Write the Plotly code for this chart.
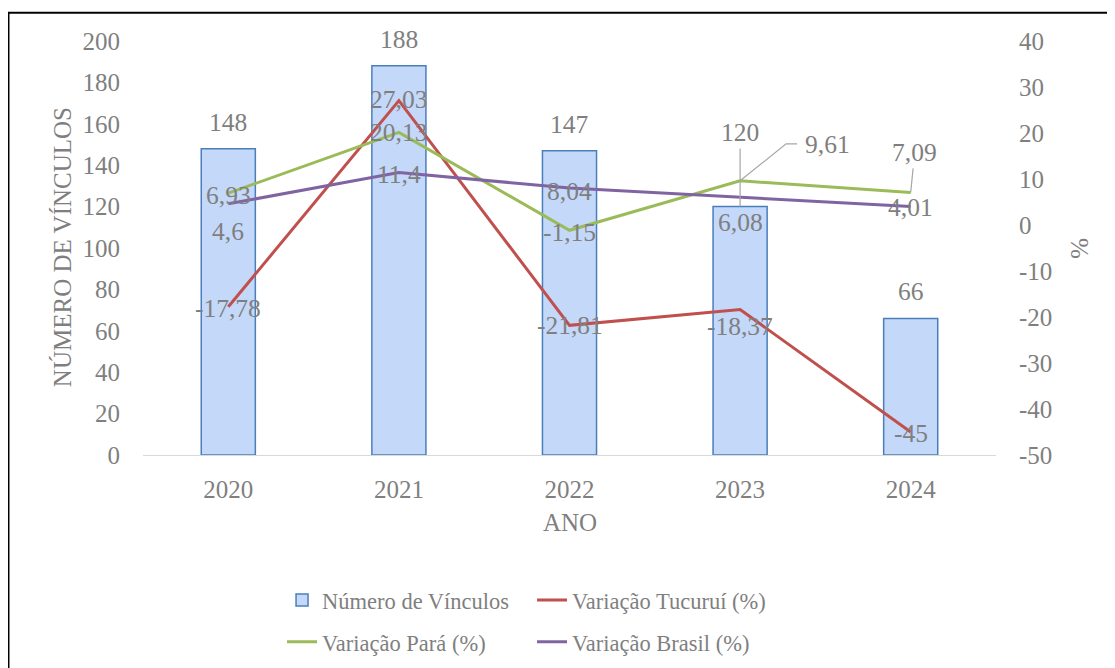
import plotly.graph_objects as go

# ---- data ----
anos = ["2020", "2021", "2022", "2023", "2024"]
vinculos = [148, 188, 147, 120, 66]
var_tucurui = [-17.78, 27.03, -21.81, -18.37, -45.0]
var_para = [6.93, 20.13, -1.15, 9.61, 7.09]
var_brasil = [4.6, 11.4, 8.04, 6.08, 4.01]
ticks_left = list(range(0, 201, 20))
ticks_right = list(range(-50, 41, 10))

# ---- style ----
FONT = "Liberation Serif"
GRAY = "#7f7f7f"
C_RED = "#c0504d"
C_GREEN = "#9bbb59"
C_PURPLE = "#8064a2"
LEADER = "#a6a6a6"

# label vertical offsets (px) relative to points
off_bar = [26, 26, 26, 74, 27]
off_tuc = [-2, 1, 0, -17, -1]
off_para = [-2, 0, -2, None, None]
off_bra = [-28, -2, -3, -25, -1]


def fmt(v):
    return f"{v:g}".replace(".", ",")


fig = go.Figure()

fig.add_trace(go.Bar(
    x=anos, y=vinculos, name="Número de Vínculos",
    width=0.317,
    marker=dict(color="#c4d8fa", line=dict(color="#4a7ebb", width=1.5)),
    legend="legend", yaxis="y",
))
fig.add_trace(go.Scatter(
    x=anos, y=var_tucurui, name="Variação Tucuruí (%)", mode="lines",
    line=dict(color=C_RED, width=3), yaxis="y2", legend="legend",
))
fig.add_trace(go.Scatter(
    x=anos, y=var_para, name="Variação Pará (%)", mode="lines",
    line=dict(color=C_GREEN, width=3), yaxis="y2", legend="legend2",
))
fig.add_trace(go.Scatter(
    x=anos, y=var_brasil, name="Variação Brasil (%)", mode="lines",
    line=dict(color=C_PURPLE, width=3), yaxis="y2", legend="legend2",
))

lab_font = dict(family=FONT, size=25.5, color=GRAY)
ann = []
# bar labels (category axis -> annotations use category index)
for i, (v, o) in enumerate(zip(vinculos, off_bar)):
    if o > 40:
        ann.append(dict(x=i, y=v, xref="x", yref="y", text=fmt(v), showarrow=True,
                        ax=0, ay=-o, arrowhead=0, arrowwidth=1.2, arrowcolor=LEADER,
                        standoff=0, font=lab_font))
    else:
        ann.append(dict(x=i, y=v, xref="x", yref="y", text=fmt(v), showarrow=False,
                        yshift=o, font=lab_font))
# line labels
for series, offs in ((var_tucurui, off_tuc), (var_para, off_para), (var_brasil, off_bra)):
    for i, (v, o) in enumerate(zip(series, offs)):
        if o is None:
            continue
        ann.append(dict(x=i, y=v, xref="x", yref="y2", text=fmt(v), showarrow=False,
                        yshift=o, font=lab_font))
# Pará 2023 label with bent leader line
ann.append(dict(x=3, y=var_para[3], xref="x", yref="y2", text=fmt(var_para[3]),
                showarrow=False, xshift=87, yshift=36, font=lab_font))
# Pará 2024 label with leader line
ann.append(dict(x=4, y=var_para[4], xref="x", yref="y2", text=fmt(var_para[4]),
                showarrow=True, ax=4, ay=-40, arrowhead=0, arrowwidth=1.2,
                arrowcolor=LEADER, standoff=0, font=lab_font))

# axis titles
title_font = dict(family=FONT, size=25, color=GRAY)
ann.append(dict(x=-0.095, y=0.502, xref="paper", yref="paper", text="NÚMERO DE VÍNCULOS",
                textangle=-90, showarrow=False, font=title_font,
                xanchor="center", yanchor="middle"))
ann.append(dict(x=1.0985, y=0.498, xref="paper", yref="paper", text="%",
                textangle=-90, showarrow=False, font=title_font,
                xanchor="center", yanchor="middle"))
ann.append(dict(x=0.5006, y=-0.163, xref="paper", yref="paper", text="ANO",
                showarrow=False, font=title_font, xanchor="center", yanchor="middle"))

shapes = [
    dict(type="path", xref="x", yref="y2", xsizemode="pixel", ysizemode="pixel",
         xanchor=3, yanchor=var_para[3], path="M0,0 L46,37 L57,37",
         line=dict(color=LEADER, width=1.2)),
    dict(type="rect", xref="paper", yref="paper", x0=-0.1577, y0=-0.7, x1=1.3, y1=1.0685,
         line=dict(color="black", width=2), layer="above"),
]

tick_font = dict(family=FONT, size=25, color=GRAY)
leg_font = dict(family=FONT, size=22.5, color=GRAY)

fig.update_layout(
    width=1115, height=668,
    margin=dict(l=135, r=127, t=33, b=219),
    paper_bgcolor="white", plot_bgcolor="white",
    annotations=ann, shapes=shapes,
    xaxis=dict(type="category", categoryorder="array", categoryarray=anos,
               range=[-0.5, 4.5], autorange=False,
               showgrid=False, showline=True, linecolor="#d9d9d9",
               linewidth=1.2, tickfont=tick_font, ticks="", ticklabelstandoff=12,
               zeroline=False),
    yaxis=dict(range=[0, 200], tickmode="array", tickvals=ticks_left,
               ticktext=[str(t) for t in ticks_left], showgrid=False, zeroline=False,
               tickfont=tick_font, ticks="", ticklabelstandoff=22),
    yaxis2=dict(range=[-50, 40], tickmode="array", tickvals=ticks_right,
                ticktext=[str(t) for t in ticks_right], overlaying="y", side="right",
                showgrid=False, zeroline=False, tickfont=tick_font, ticks="",
                ticklabelstandoff=22),
    legend=dict(orientation="h", x=0.163, y=-0.351, xanchor="left", yanchor="middle",
                font=leg_font, entrywidth=205, bgcolor="rgba(0,0,0,0)"),
    legend2=dict(orientation="h", x=0.163, y=-0.452, xanchor="left", yanchor="middle",
                 font=leg_font, entrywidth=205, bgcolor="rgba(0,0,0,0)"),
    showlegend=True,
)

fig.write_html("out.html")
